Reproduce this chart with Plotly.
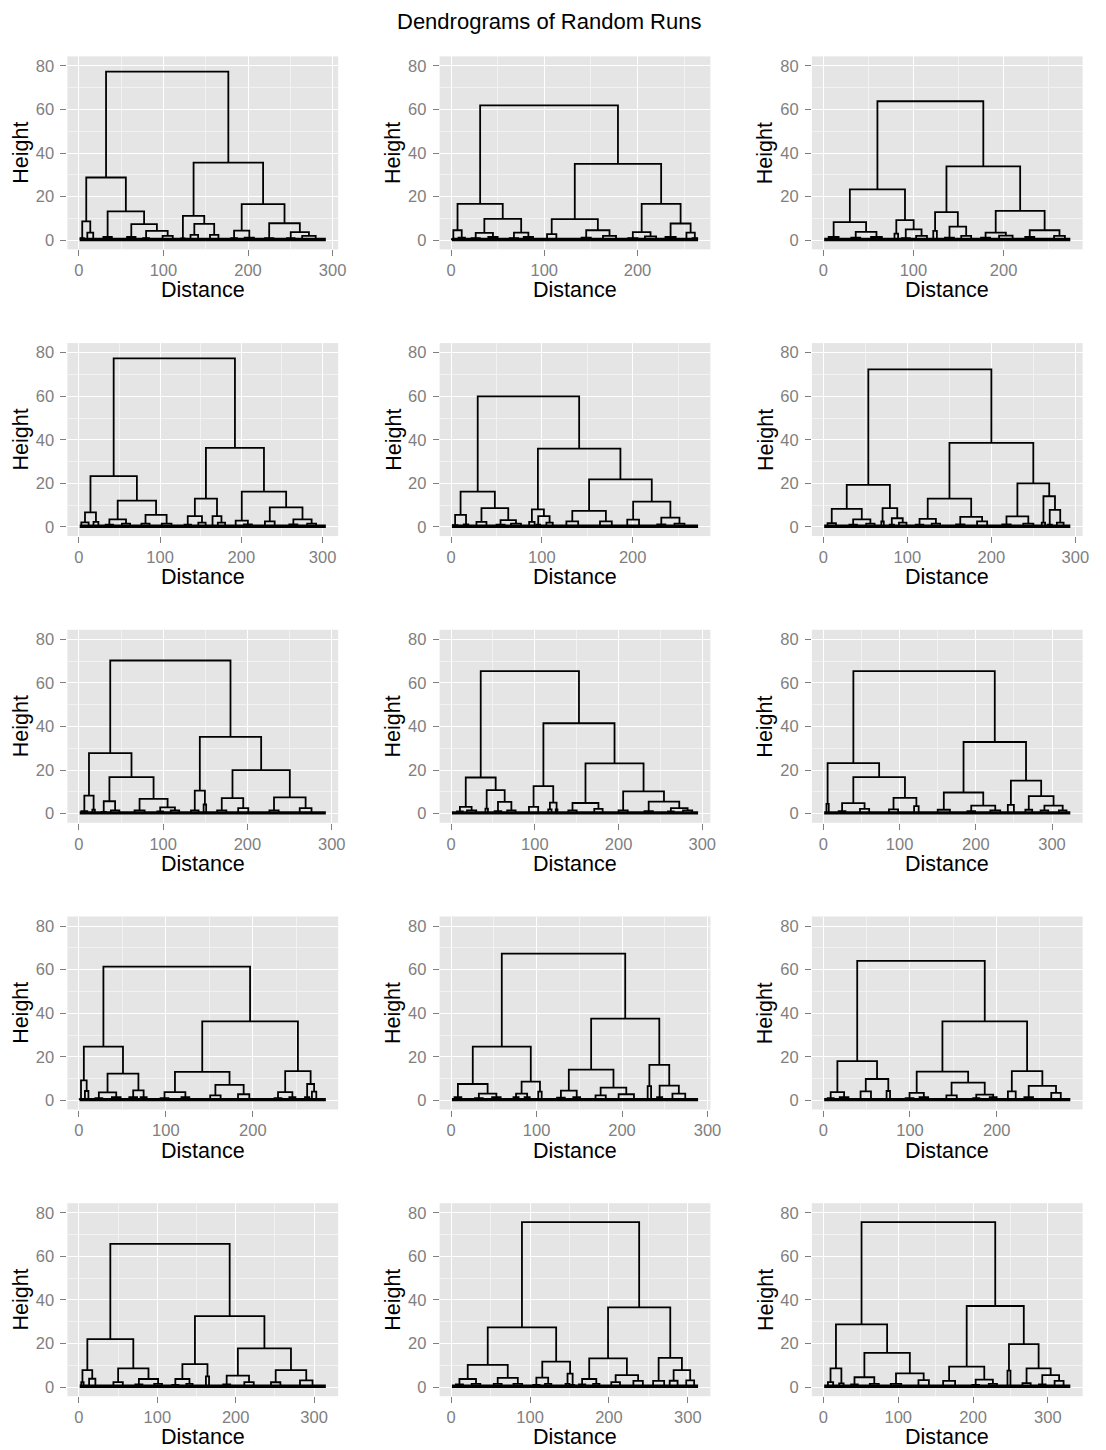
import plotly.graph_objects as go

TITLE = "Dendrograms of Random Runs"
X_TITLE = "Distance"
Y_TITLE = "Height"
X_TICKS = [0, 100, 200, 300]
X_MINOR = [50, 150, 250, 350]
Y_TICKS = [0, 20, 40, 60, 80]
Y_MINOR = [10, 30, 50, 70]
Y_RANGE = [-4.2, 84.4]

# number of leaves per run (leaves sit at x = 1..N)
LEAF_COUNTS = [292, 265, 274, 304, 272, 294, 293, 295, 324,
               284, 289, 285, 315, 313, 330]

# merge trees: (height, left, right); a bare number is a leaf position at height 0
TREE_01 = (77.4,
           (28.8,
            (8.7, (1.0, 2, 6), (3.5, 10, 17)),
            (13.3, (1.5, 29, 39),
             (7.4, (1.5, 57, 67), (4.3, (1.0, 76, 83), (2.0, 99, 111))))),
           (35.6,
            (11.2, (0.8, 121, 125), (7.5, (2.5, 132, 141), (2.5, 155, 165))),
            (16.6, (4.4, (1.0, 180, 187), (1.2, 196, 207)),
             (7.8, (1.0, 220, 230), (3.7, (1.0, 246, 255), (2.0, 264, 280))))))

TREE_02 = (61.9,
           (16.7,
            (4.6, (0.5, 1, 4), (1.2, 8, 15)),
            (9.8, (3.4, (1.0, 22, 31), (1.5, 40, 50)),
             (3.5, (1.0, 63, 72), (1.5, 78, 88)))),
           (35.1,
            (9.7, (2.8, 103, 113), (4.6, (1.2, 140, 150), (2.0, 163, 177))),
            (16.7, (3.7, (1.0, 190, 200), (1.8, 208, 220)),
             (7.7, (1.5, 230, 241), (3.5, (0.5, 251, 254), (1.0, 259, 264))))))

TREE_03 = (63.8,
           (23.4,
            (8.3, (1.5, 6, 17), (3.8, (1.2, 31, 41), (1.5, 53, 65))),
            (9.2, (3.0, 79, 83), (5.0, (1.0, 87, 96), (2.0, 103, 115)))),
           (33.9,
            (12.9, (4.3, 122, 126), (6.3, (1.2, 135, 145), (2.0, 153, 164))),
            (13.5, (3.5, (1.2, 175, 185), (2.1, 195, 210)),
             (4.6, (1.5, 224, 234), (2.0, 256, 268)))))

TREE_04 = (77.4,
           (23.3,
            (6.7, (2.1, 3, 12), (2.3, 18, 24)),
            (12.1, (3.5, (1.0, 33, 42), (1.5, 53, 63)),
             (5.5, (1.5, 77, 87), (1.5, 102, 114)))),
           (36.3,
            (13.0, (5.0, (1.0, 130, 138), (2.0, 147, 156)),
             (5.0, (0.5, 163, 166), (2.0, 171, 180))),
            (16.2, (2.9, (0.5, 190, 196), (1.2, 203, 213)),
             (9.0, (2.6, 229, 241), (3.5, (1.2, 259, 269), (1.5, 281, 292))))))

TREE_05 = (59.9,
           (16.2,
            (5.5, (0.8, 2, 7), (1.2, 14, 19)),
            (8.6, (2.3, 28, 39), (3.1, (1.0, 50, 59), (1.5, 66, 77)))),
           (36.0,
            (8.1, (2.3, 86, 92), (5.0, (1.0, 94, 98), (2.0, 105, 112))),
            (21.8, (7.4, (2.6, 127, 140), (2.6, 164, 177)),
             (11.6, (3.4, 194, 207), (4.3, (1.2, 227, 236), (1.5, 246, 257))))))

TREE_06 = (72.3,
           (19.3,
            (8.3, (1.7, 5, 15), (3.5, (1.0, 31, 40), (1.5, 51, 61))),
            (8.6, (2.5, 69, 72), (4.0, (1.0, 79, 84), (2.0, 90, 99)))),
           (38.6,
            (13.0, (3.7, (1.0, 110, 119), (1.5, 129, 139)),
             (4.6, (1.2, 158, 168), (2.6, 183, 195))),
            (20.0, (4.9, (1.2, 213, 223), (1.5, 238, 250)),
             (14.1, (2.0, 260, 264), (7.8, (1.0, 267, 272), (2.0, 278, 286))))))

TREE_07 = (70.3,
           (27.8,
            (8.3, (1.2, 3, 10), (1.8, 16, 19)),
            (16.8, (5.7, (0.8, 27, 32), (1.5, 38, 48)),
             (6.8, (1.5, 66, 78), (2.9, (1.0, 93, 100), (1.5, 109, 119))))),
           (35.2,
            (10.6, (1.5, 133, 142), (4.2, 148, 151)),
            (20.0, (7.1, (1.5, 164, 175), (2.5, 189, 201)),
             (7.5, (1.5, 226, 237), (2.5, 262, 276)))))

TREE_08 = (65.4,
           (16.6,
            (3.1, (1.0, 7, 14), (1.5, 19, 30)),
            (10.8, (2.3, 41, 44), (5.4, (1.2, 52, 60), (1.5, 67, 77)))),
           (41.5,
            (12.6, (3.1, 93, 104), (5.1, (2.0, 116, 120), (2.0, 125, 127))),
            (23.1, (4.9, (1.5, 140, 150), (2.2, 171, 181)),
             (10.2, (1.5, 200, 211),
              (5.5, (1.2, 231, 241), (2.5, (1.0, 259, 266), (1.5, 277, 288)))))))

TREE_09 = (65.4,
           (23.2,
            (4.5, 4, 7),
            (16.8, (4.8, (1.2, 20, 29), (2.2, 48, 60)),
             (7.2, (2.0, 86, 98), (3.5, 119, 125)))),
           (32.9,
            (9.7, (1.8, 150, 166), (3.7, (1.2, 189, 199), (1.5, 219, 232))),
            (15.2, (4.0, 242, 250),
             (8.0, (1.8, 265, 274), (3.7, (1.5, 285, 295), (1.5, 309, 319))))))

TREE_10 = (61.4,
           (24.7,
            (9.2, (0.5, 1, 4), (4.3, 7, 11)),
            (12.3, (3.7, (1.0, 19, 27), (1.5, 38, 48)),
             (4.6, (1.5, 58, 67), (1.5, 71, 78)))),
           (36.3,
            (13.1, (3.8, (1.0, 94, 103), (1.5, 118, 127)),
             (7.1, (2.3, 151, 163), (2.8, 183, 196))),
            (13.4, (3.8, (1.0, 225, 233), (1.5, 242, 249)),
             (7.5, (1.5, 260, 265), (4.0, 268, 273)))))

TREE_11 = (67.4,
           (24.7,
            (7.5, (1.5, 4, 12), (3.1, (1.0, 28, 37), (1.5, 48, 58))),
            (8.6, (3.1, (1.5, 73, 79), (1.5, 86, 92)), (4.0, 102, 106))),
           (37.5,
            (14.1, (4.5, (1.2, 124, 133), (1.5, 143, 151)),
             (5.8, (2.3, 169, 181), (2.8, 196, 214))),
            (16.3, (6.5, 230, 234), (6.8, (1.5, 241, 247), (3.1, 259, 274)))))

TREE_12 = (64.0,
           (18.0,
            (3.8, (1.0, 5, 12), (1.5, 19, 29)),
            (9.8, (4.1, 43, 55), (4.3, 73, 77))),
           (36.3,
            (13.2, (3.4, (1.0, 95, 104), (1.5, 111, 121)),
             (8.1, (2.3, 142, 154), (2.6, (1.0, 173, 180), (1.5, 192, 200)))),
            (13.4, (4.1, 213, 222), (6.6, (1.5, 232, 242), (3.4, 263, 274)))))

TREE_13 = (65.7,
           (22.0,
            (7.8, (2.2, 3, 6), (3.8, 13, 21)),
            (8.6, (2.3, 44, 56), (3.7, (1.2, 72, 81), (1.5, 96, 106)))),
           (32.6,
            (10.5, (3.7, (1.0, 119, 127), (1.5, 137, 145)), (4.9, 162, 166)),
            (17.8, (5.2, (1.2, 184, 193), (2.3, 211, 223)),
             (7.8, (2.2, 245, 257), (3.1, 282, 298)))))

TREE_14 = (75.7,
           (27.4,
            (10.2, (3.7, (1.2, 6, 15), (1.5, 26, 37)),
             (4.2, (1.5, 54, 64), (1.5, 79, 90))),
            (11.7, (4.3, (1.0, 104, 112), (1.5, 119, 127)),
             (6.2, (1.5, 145, 150), (1.0, 152, 156)))),
           (36.6,
            (13.2, (3.7, (1.2, 162, 170), (1.5, 180, 188)),
             (5.5, (2.3, 203, 214), (2.8, 231, 243))),
            (13.4, (2.8, 256, 270), (7.8, (2.9, 277, 287), (3.1, 298, 308)))))

TREE_15 = (75.7,
           (28.8,
            (8.6, (2.3, 6, 13), (1.7, 21, 27)),
            (15.7, (4.5, (1.2, 37, 46), (1.5, 62, 74)),
             (6.3, (1.5, 90, 104), (3.2, 127, 141)))),
           (37.2,
            (9.4, (2.8, 160, 176), (3.4, (1.0, 199, 208), (1.5, 221, 232))),
            (19.7, (7.5, 246, 250),
             (8.6, (1.8, 266, 277), (5.5, (1.2, 288, 297), (2.8, 309, 321))))))

TREES = [TREE_01, TREE_02, TREE_03, TREE_04, TREE_05, TREE_06, TREE_07, TREE_08,
         TREE_09, TREE_10, TREE_11, TREE_12, TREE_13, TREE_14, TREE_15]

FONT = "Liberation Sans, Arial, Helvetica, sans-serif"
PAGE_W, PAGE_H = 1106, 1450
OFF = 8                      # default page margin around the plot div
FW, FH = PAGE_W - OFF, PAGE_H - OFF
COL_LEFT = [68, 444, 820]    # page pixels
PANEL_W = 273.5
ROW_TOP = 56.4
ROW_STEP = 286.7
PANEL_H = 193.0


def px(x):
    return (x - OFF) / FW


def py(y):
    return 1 - (y - OFF) / FH


def collect(node, xs, ys):
    if isinstance(node, (int, float)):
        return float(node), 0.0
    h, left, right = node
    xl, hl = collect(left, xs, ys)
    xr, hr = collect(right, xs, ys)
    xs.extend([xl, xl, xr, xr, None])
    ys.extend([hl, h, h, hr, None])
    return (xl + xr) / 2.0, h


fig = go.Figure()
annotations = []
layout_axes = {}

for i, (tree, n) in enumerate(zip(TREES, LEAF_COUNTS)):
    r, c = divmod(i, 3)
    k = i + 1
    xname = "x" if k == 1 else f"x{k}"
    yname = "y" if k == 1 else f"y{k}"
    xs, ys = [], []
    collect(tree, xs, ys)
    fig.add_trace(go.Scatter(x=[1, n], y=[0.35, 0.35], mode="lines",
                             line=dict(color="black", width=3.4),
                             xaxis=xname, yaxis=yname, hoverinfo="skip",
                             showlegend=False))
    fig.add_trace(go.Scatter(x=xs, y=ys, mode="lines",
                             line=dict(color="black", width=1.8),
                             xaxis=xname, yaxis=yname, hoverinfo="skip",
                             showlegend=False))

    left = COL_LEFT[c]
    top = ROW_TOP + ROW_STEP * r
    bottom = top + PANEL_H
    xd = [px(left), px(left + PANEL_W)]
    yd = [py(bottom), py(top)]
    pad = 0.05 * (n - 1)
    common = dict(showline=False, zeroline=False, ticks="outside", ticklen=6,
                  tickwidth=1.2, tickcolor="#7F7F7F", showgrid=True,
                  gridcolor="white", gridwidth=1.4,
                  tickfont=dict(family=FONT, size=16.5, color="#7F7F7F"),
                  fixedrange=True)
    layout_axes["xaxis" if k == 1 else f"xaxis{k}"] = dict(
        domain=xd, range=[1 - pad, n + pad], tickmode="array", tickvals=X_TICKS,
        anchor=yname,
        minor=dict(tickmode="array", tickvals=X_MINOR, showgrid=True,
                   gridcolor="#F2F2F2", gridwidth=0.7, ticks=""),
        **common)
    layout_axes["yaxis" if k == 1 else f"yaxis{k}"] = dict(
        domain=yd, range=Y_RANGE, tickmode="array", tickvals=Y_TICKS,
        anchor=xname, ticklabelstandoff=3,
        minor=dict(tickmode="array", tickvals=Y_MINOR, showgrid=True,
                   gridcolor="#F2F2F2", gridwidth=0.7, ticks=""),
        **common)

    annotations.append(dict(text=X_TITLE, xref="paper", yref="paper",
                            x=px(left + PANEL_W / 2), y=py(bottom + 41),
                            xanchor="center", yanchor="middle", showarrow=False,
                            font=dict(family=FONT, size=21.5, color="black")))
    annotations.append(dict(text=Y_TITLE, xref="paper", yref="paper",
                            x=px(left - 47), y=py(top + PANEL_H / 2),
                            xanchor="center", yanchor="middle", showarrow=False,
                            textangle=-90,
                            font=dict(family=FONT, size=21.5, color="black")))

annotations.append(dict(text=TITLE, xref="paper", yref="paper", x=px(554),
                        y=py(22), xanchor="center", yanchor="middle",
                        showarrow=False, borderpad=0,
                        font=dict(family=FONT, size=22, color="black")))

fig.update_layout(width=FW, height=FH, margin=dict(l=0, r=0, t=0, b=0),
                  paper_bgcolor="white", plot_bgcolor="#E5E5E5",
                  showlegend=False, annotations=annotations, **layout_axes)

fig.write_html("out.html")
